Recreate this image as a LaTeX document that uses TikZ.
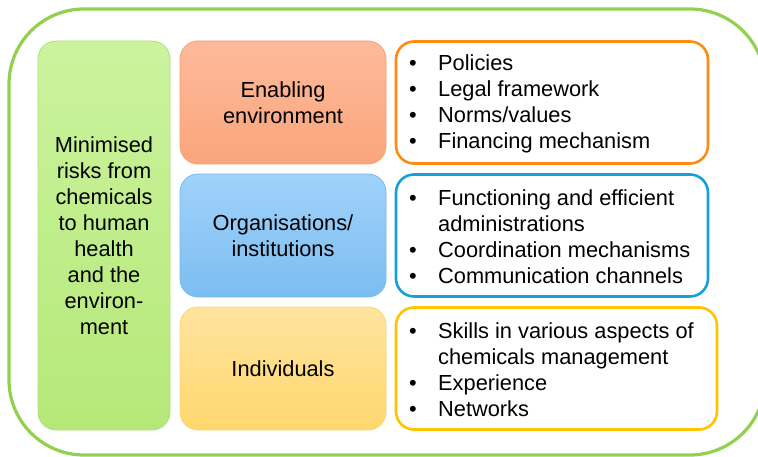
\documentclass[tikz,border=0pt]{standalone}
\usepackage{fontspec}
\setmainfont{Liberation Sans}
\definecolor{outergreen}{HTML}{92D050}
\definecolor{gtop}{HTML}{CBF39E}
\definecolor{gbot}{HTML}{B5E878}
\definecolor{gline}{HTML}{B0E080}
\definecolor{otop}{HTML}{FDBA9B}
\definecolor{obot}{HTML}{FAA57B}
\definecolor{oline}{HTML}{F8A070}
\definecolor{btop}{HTML}{A0D2FA}
\definecolor{bbot}{HTML}{7CBDF1}
\definecolor{bline}{HTML}{78B8EC}
\definecolor{ytop}{HTML}{FFE49E}
\definecolor{ybot}{HTML}{FFD76E}
\definecolor{yline}{HTML}{FCD670}
\definecolor{oborder}{HTML}{FF8A14}
\definecolor{bborder}{HTML}{14A0DC}
\definecolor{yborder}{HTML}{FFC400}
\newcommand{\bl}[1]{\makebox[29pt][l]{\textbullet}#1}
\newcommand{\cont}[1]{\hspace*{29pt}#1}
\tikzset{
  txt/.style={font=\fontsize{21.8pt}{26pt}\selectfont, text=black},
  fillbox/.style={rounded corners=18pt, inner sep=0pt, outer sep=0pt, line width=0.8pt, align=center, txt},
  listbox/.style={draw, rounded corners=18pt, inner sep=0pt, outer sep=0pt, line width=2.6pt, fill=white},
  listtxt/.style={txt, anchor=west, align=left, inner sep=0pt}
}
\begin{document}
\begin{tikzpicture}[x=1pt,y=-1pt]
\clip (0,0) rectangle (758,457);
\fill[white] (0,0) rectangle (758,457);
\node[draw=outergreen, line width=3.2pt, rounded corners=75pt, minimum width=756pt, minimum height=446pt, inner sep=0pt] (outer) at (387,232) {};
% left goal box
\node[fillbox, draw=gline, top color=gtop, bottom color=gbot, minimum width=132pt, minimum height=389pt] (goal) at (104,235.5)
  {Minimised\\risks from\\chemicals\\to human\\health\\and the\\environ-\\ment};
% middle boxes
\node[fillbox, draw=oline, top color=otop, bottom color=obot, minimum width=206pt, minimum height=123pt] (env) at (283,102.5) {Enabling\\environment};
\node[fillbox, draw=bline, top color=btop, bottom color=bbot, minimum width=206pt, minimum height=123pt] (org) at (283,235.5) {Organisations/\\institutions};
\node[fillbox, draw=yline, top color=ytop, bottom color=ybot, minimum width=206pt, minimum height=123pt] (ind) at (283,368.5) {Individuals};
% right list boxes
\node[listbox, draw=oborder, minimum width=312pt, minimum height=122pt] (envlist) at (552,102.5) {};
\node[listbox, draw=bborder, minimum width=312pt, minimum height=122pt] (orglist) at (552,235.5) {};
\node[listbox, draw=yborder, minimum width=321pt, minimum height=122pt] (indlist) at (556.5,368.5) {};
\node[listtxt] (envtxt) at (409,103.5) {\bl{Policies}\\\bl{Legal framework}\\\bl{Norms/values}\\\bl{Financing mechanism}};
\node[listtxt] (orgtxt) at (409,237) {\bl{Functioning and efficient}\\\cont{administrations}\\\bl{Coordination mechanisms}\\\bl{Communication channels}};
\node[listtxt] (indtxt) at (409,370) {\bl{Skills in various aspects of}\\\cont{chemicals management}\\\bl{Experience}\\\bl{Networks}};
\end{tikzpicture}
\end{document}
